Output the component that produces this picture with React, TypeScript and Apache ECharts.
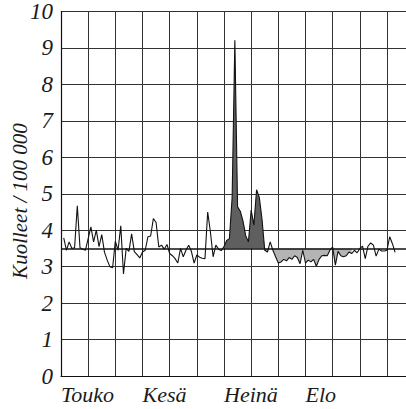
import React, { useEffect, useRef } from "react";
import * as echarts from "echarts";

// Daily death rate per 100 000, 1 May (day 1) .. 31 Aug (day 123)
const deaths: number[] = [
  3.79, 3.45, 3.68, 3.5, 3.52, 4.67, 3.52, 3.48, 3.45, 3.77,
  4.09, 3.68, 4.0, 3.55, 3.88, 3.4, 3.18, 3.0, 2.97, 3.7,
  3.45, 4.12, 2.8, 3.5, 3.42, 3.9, 3.41, 3.33, 3.24, 3.4,
  3.45, 3.82, 3.84, 4.32, 4.21, 3.54, 3.59, 3.48, 3.61, 3.36,
  3.3, 3.22, 3.1, 3.5, 3.27, 3.45, 3.59, 3.42, 3.1, 3.32,
  3.26, 3.23, 3.22, 4.5, 3.95, 3.27, 3.59, 3.48, 3.44, 3.55,
  3.72, 3.77, 4.9, 9.21, 4.64, 4.52, 4.25, 3.85, 3.68, 4.55,
  4.14, 5.11, 4.9, 4.3, 3.45, 3.4, 3.68, 3.45, 3.27, 3.1,
  3.13, 3.2, 3.16, 3.25, 3.2, 3.3, 3.25, 3.08, 3.45, 3.1,
  3.18, 3.13, 3.2, 3.01, 3.2, 3.3, 3.31, 3.3, 3.45, 3.54,
  3.04, 3.42, 3.3, 3.27, 3.3, 3.4, 3.36, 3.45, 3.38, 3.5,
  3.56, 3.22, 3.56, 3.65, 3.59, 3.29, 3.48, 3.43, 3.43, 3.45,
  3.82, 3.63, 3.39,
];
const FIRST_DAY = 1;
const DAY_SLOTS = 128; // axis runs from day 0 to day 127
const BASELINE = 3.5;
const months = ["Touko", "Kesä", "Heinä", "Elo"];
const monthStart = [0, 30, 60, 90];
const heatRange = [60, 75];
const coolRange = [75, 107];
const yTicks = [0, 1, 2, 3, 4, 5, 6, 7, 8, 9, 10];

export default function App() {
  const ref = useRef<HTMLDivElement>(null);
  useEffect(() => {
    document.body.style.margin = "0";
    if (!ref.current) return;
    const chart = echarts.init(ref.current, null, { renderer: "svg" });
    const cats = Array.from({ length: DAY_SLOTS }, (_, i) => String(i));
    const val = (i: number) => {
      const k = i - FIRST_DAY;
      return k >= 0 && k < deaths.length ? deaths[k] : null;
    };
    const main = cats.map((_, i) => {
      const v = val(i);
      return v === null ? "-" : v;
    });
    const inR = (i: number, r: number[]) => i >= r[0] && i <= r[1] && val(i) !== null;
    const darkBase = cats.map((_, i) => (inR(i, heatRange) ? BASELINE : "-"));
    const darkTop = cats.map((_, i) =>
      inR(i, heatRange) ? Math.max((val(i) as number) - BASELINE, 0) : "-"
    );
    const lightBase = cats.map((_, i) =>
      inR(i, coolRange) ? Math.min(val(i) as number, BASELINE) : "-"
    );
    const lightTop = cats.map((_, i) =>
      inR(i, coolRange) ? BASELINE - Math.min(val(i) as number, BASELINE) : "-"
    );
    const font = "Liberation Serif";
    const hidden = { opacity: 0, width: 0 };
    chart.setOption({
      animation: false,
      textStyle: { fontFamily: font },
      grid: { left: 61, right: 0, top: 11, bottom: 33, containLabel: false },
      xAxis: {
        type: "category",
        data: cats,
        boundaryGap: false,
        axisTick: { show: false },
        axisLine: { show: true, lineStyle: { color: "#111", width: 1.2 } },
        splitLine: {
          show: true,
          interval: (i: number) => i % 10 === 0,
          lineStyle: { color: "#333", width: 1 },
        },
        axisLabel: {
          show: true,
          interval: (i: number) => monthStart.indexOf(i) >= 0,
          formatter: (_v: string, i: number) => {
            const m = monthStart.indexOf(i);
            return m >= 0 ? months[m] : "";
          },
          align: "left",
          margin: 7,
          fontFamily: font,
          fontStyle: "italic",
          fontSize: 22,
          color: "#1a1a1a",
        },
      },
      yAxis: {
        type: "value",
        min: yTicks[0],
        max: yTicks[yTicks.length - 1],
        interval: 1,
        axisTick: { show: false },
        axisLine: { show: true, lineStyle: { color: "#111", width: 1.2 } },
        splitLine: { show: true, lineStyle: { color: "#333", width: 1 } },
        axisLabel: {
          margin: 8,
          fontFamily: font,
          fontStyle: "italic",
          fontSize: 23,
          color: "#1a1a1a",
          padding: [10, 0, 0, 0],
        },
      },
      graphic: [
        {
          type: "text",
          x: 20,
          y: 201,
          rotation: Math.PI / 2,
          style: {
            text: "Kuolleet / 100 000",
            fontFamily: font,
            fontStyle: "italic",
            fontSize: 21,
            fill: "#1a1a1a",
            align: "center",
            verticalAlign: "middle",
          },
        },
      ],
      series: [
        {
          type: "line",
          stack: "heat",
          data: darkBase,
          symbol: "none",
          lineStyle: hidden,
          silent: true,
          z: 2,
        },
        {
          type: "line",
          stack: "heat",
          data: darkTop,
          symbol: "none",
          lineStyle: hidden,
          areaStyle: { color: "#5f5f5f", opacity: 1 },
          silent: true,
          z: 2,
        },
        {
          type: "line",
          stack: "cool",
          data: lightBase,
          symbol: "none",
          lineStyle: hidden,
          silent: true,
          z: 2,
        },
        {
          type: "line",
          stack: "cool",
          data: lightTop,
          symbol: "none",
          lineStyle: hidden,
          areaStyle: { color: "#b4b4b4", opacity: 1 },
          silent: true,
          z: 2,
        },
        {
          type: "line",
          data: main,
          symbol: "none",
          lineStyle: { color: "#111", width: 1.1 },
          z: 5,
          markLine: {
            silent: true,
            symbol: "none",
            label: { show: false },
            lineStyle: { color: "#111", width: 1.5, type: "solid" },
            data: [{ yAxis: BASELINE }],
          },
        },
      ],
    });
    return () => chart.dispose();
  }, []);
  return <div ref={ref} style={{ width: 406, height: 409 }} />;
}
